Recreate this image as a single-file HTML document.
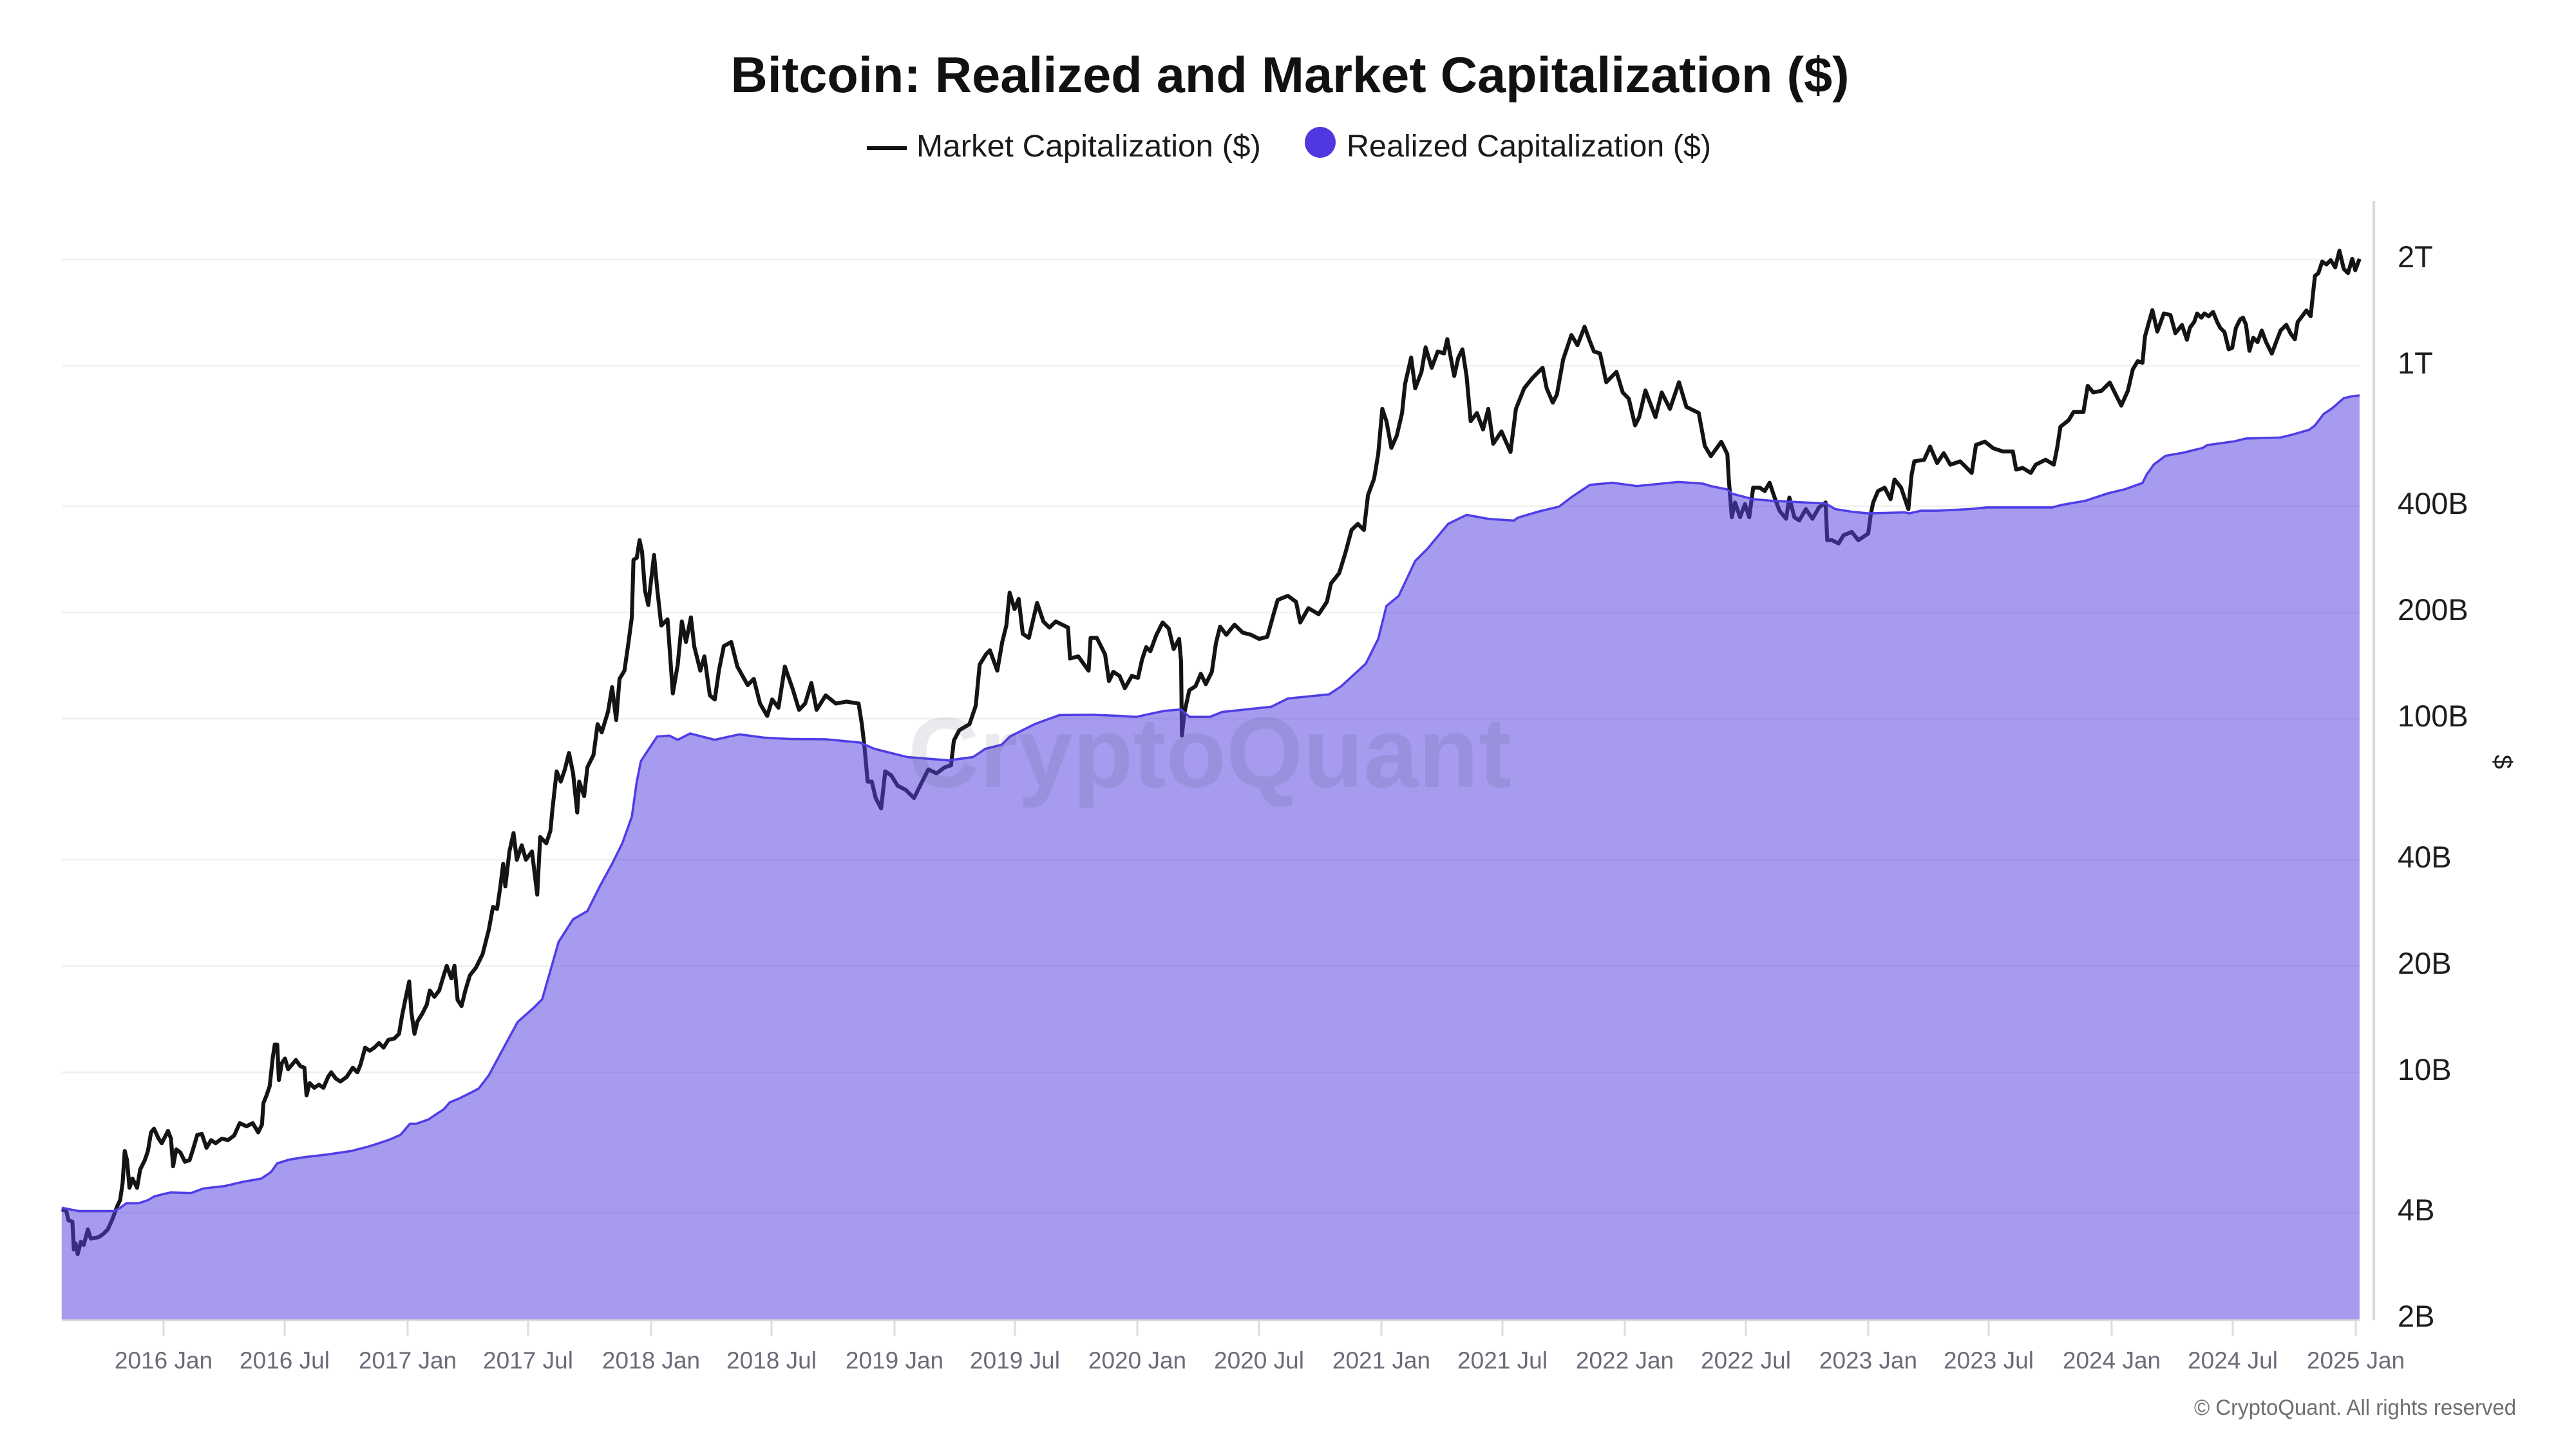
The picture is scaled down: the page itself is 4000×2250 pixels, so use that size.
<!DOCTYPE html>
<html>
<head>
<meta charset="utf-8">
<style>
html,body{margin:0;padding:0;background:#fff;}
body{width:4000px;height:2250px;overflow:hidden;}
svg{display:block;}
text{font-family:"Liberation Sans",Arial,sans-serif;}
</style>
</head>
<body>
<svg width="4000" height="2250" viewBox="0 0 4000 2250" xmlns="http://www.w3.org/2000/svg">
<rect x="0" y="0" width="4000" height="2250" fill="#ffffff"/>

<!-- Title -->
<text x="2003" y="143" text-anchor="middle" font-size="78" font-weight="bold" fill="#111111" textLength="1737" lengthAdjust="spacingAndGlyphs">Bitcoin: Realized and Market Capitalization ($)</text>

<!-- Legend -->
<rect x="1346" y="227" width="62" height="6" fill="#111111"/>
<text x="1423" y="243" font-size="48" fill="#1a1a1a" textLength="535" lengthAdjust="spacingAndGlyphs">Market Capitalization ($)</text>
<circle cx="2050" cy="221" r="24" fill="#5038e0"/>
<text x="2091" y="243" font-size="48" fill="#1a1a1a" textLength="566" lengthAdjust="spacingAndGlyphs">Realized Capitalization ($)</text>

<!-- Gridlines -->
<g stroke="#f0f0f0" stroke-width="2.5">
<line x1="96" y1="403" x2="3664" y2="403"/>
<line x1="96" y1="568" x2="3664" y2="568"/>
<line x1="96" y1="786" x2="3664" y2="786"/>
<line x1="96" y1="951" x2="3664" y2="951"/>
<line x1="96" y1="1116" x2="3664" y2="1116"/>
<line x1="96" y1="1335" x2="3664" y2="1335"/>
<line x1="96" y1="1500" x2="3664" y2="1500"/>
<line x1="96" y1="1665" x2="3664" y2="1665"/>
<line x1="96" y1="1883" x2="3664" y2="1883"/>
</g>

<!-- Data (in preview coordinates, scaled) -->
<g transform="scale(2.555)">
<path fill="none" stroke="#141414" stroke-width="2.4" stroke-linejoin="round" d="M37.5,735 L40.3,736 41.6,741.6 44,742.5 44.9,759.4 45.9,755.6 47.2,762.2 49.1,754.7 50.9,756.6 53.4,747.2 55.2,752.8 59.9,751.9 62.7,750 65.5,747.2 68.4,740.7 71.2,733.2 73,729.4 74.5,719.1 75.8,699.5 77.2,705.1 78.7,721.9 80.5,716.3 83.3,721.9 85.2,710.7 88,705.1 89.9,699.5 91.8,688.2 93.6,686 96.4,692 98.3,694.8 102.1,687.3 103.9,692 105.2,708.8 107.1,698.5 109.6,700.4 112.4,706 115.2,705.1 117,699.5 119.9,689.7 122.7,689.2 125.5,697.6 128.3,692.9 131.1,694.8 134.8,692 138.6,692.9 142.3,690.1 145.7,682.6 149.8,684.5 153.6,682.6 156.9,688.2 159.2,683.5 160.1,670.4 162,665.7 163.9,660.1 165.7,643.3 167,634.8 168.5,634.8 169.5,656.4 171.3,646.1 173.2,643.3 175.1,649.8 177.5,647 179.8,644.2 182.6,648 185,648.9 186.3,665.7 188.2,658.3 191,661.1 193.8,659.2 196.6,661.1 199.4,654.5 201.3,651.7 204.1,655.5 206.9,657.3 210.7,654.5 214.4,648.9 217.2,651.7 219.1,647 221.9,636.7 224.7,638.6 227.5,636.7 230.3,633.9 233.1,636.7 236,632 239.7,631.1 242.5,628.3 244.4,617 246.3,607.7 248.7,596.5 250,615.2 251.9,628.3 253.7,620.8 256.6,616.1 259.4,610.5 261.2,602 264,605.8 266.9,602 269.7,592.7 271.5,587 274.3,594.6 276.2,587 278.1,607.7 280.5,611.4 282.8,602 285.6,592.7 289.3,588 293.3,579.9 297.1,564.9 299.6,551.2 302.1,552.4 304.1,538.7 305.8,525 307.1,538.7 309.6,517.5 312.1,506.3 314.1,522.5 317.1,513.7 319.6,522.5 323.3,517.5 326.5,543.7 328.3,508.7 332,512.5 334.5,505 335.8,491.3 338.3,468.8 340.8,475 343.3,467.6 345.8,457.6 348.3,470 350.8,493.8 352,475 355,483.8 357,466.3 360.7,458.8 363.2,440.1 365.7,445.1 369.5,432.6 372,417.6 374.5,437.6 376.5,412.6 379.5,407.6 382,390.2 384,375.2 385,340.2 387,339 388.7,328.3 390.2,335.3 392,359 394,367.7 395.7,352.7 397.5,337.3 399.4,357.7 401.9,380.2 405.7,376.4 408.9,421.4 411.9,403.9 414.4,377.7 416.9,390.2 419.9,375.2 421.9,392.7 425.6,407.6 428.1,398.9 431.4,422.6 434.4,425.1 436.9,407.6 439.9,392.7 444.4,390.2 448.1,405.1 454.4,416.4 458.1,412.6 461.9,427.6 466.3,435.1 469.3,425.1 473.1,430.1 477,405.1 481.8,418.9 485.6,431.4 489.3,427.6 493.1,415.1 496.3,431.4 501.8,422.6 508,427.6 514.3,426.4 521.8,427.6 523.8,440.1 525.5,455.1 527.3,475 529.8,475 532.2,485 535.5,491.3 538,468.8 541.7,471.3 545.5,477.5 550.5,480.1 555.5,485 559.2,477.5 564.2,467.6 569.2,470 574.2,466.3 578,465.1 579.7,450.1 583,443.8 589.2,440.1 593,428.9 595.4,403.9 599.2,397.7 601.6,395.2 606.1,407.6 609.1,390.2 611.6,380.2 613.6,360.2 616.6,370.2 619.1,364 621.6,385.2 625.3,387.7 630.3,366.4 634.1,377.7 637.8,381.4 641.6,377.7 649.1,381.4 650.3,400.2 655.3,398.9 661.6,407.6 662.8,387.7 666.6,387.7 671.6,397.7 674,413.9 676.6,408.3 680.4,410.8 683.6,418.2 687.9,410.8 691.6,412 694.1,400.8 696.6,393.3 699.1,395.8 702.8,385.8 706.6,378.3 710.3,382 713.3,394.5 716.6,388.3 717.8,402 718.3,447 719.8,433.2 722.8,419.5 726.6,417 729.8,409.5 732.8,415.8 736.5,408.3 739,390.8 741.5,380.8 745.3,385.8 750.3,379.6 755.3,384.5 760.3,385.8 765.3,388.3 770.2,387 774,373.3 776.5,364.6 782.7,362.1 787.7,365.8 790.2,378.3 795.2,369.6 801.4,373.3 806.4,365.8 808.9,354.6 813.9,348.3 817.7,335.9 821.4,322.1 825.2,318.4 828.9,322.1 831.4,300.9 835.1,290.9 837.6,276 840.1,248.5 842.6,256 845.6,272.2 848.9,264.7 852.1,251 853.9,233.5 857.6,217.3 860.1,236 863.9,226 866.4,211.1 870.1,223.5 873.8,213.6 877.6,214.8 879.6,206.1 883.8,228.5 886.3,217.3 888.8,212.3 891.3,228.5 893.8,256 897.6,251 901.3,261 904.5,248.5 907.5,269.7 912.5,262.2 918,274.7 921.3,248.5 926.3,236 931.3,229.8 937.5,223.5 940,236 943.7,244.7 946.2,239.8 950,218.5 955,203.6 958.7,209.8 963,198.6 966.2,207.3 968.7,213.6 972.4,214.8 976.2,232.3 982.4,226 986.2,238.5 989.9,242.3 993.7,258.5 996.2,253.5 1000,237.3 1006.1,253.5 1009.9,238.5 1014.9,248.5 1020.4,232.3 1024.9,247.3 1032.4,251 1036.1,271 1039.8,277.2 1046.1,268.5 1049.8,276 1050.6,290.4 1052.5,314.3 1054.5,305.4 1057.5,314.3 1060.5,306.4 1063.1,314.3 1065.5,296.4 1069.5,296.4 1072.5,298.4 1075.5,293.4 1078.5,302.4 1081.5,310.4 1085.5,315.3 1087.5,302.4 1090.5,314.3 1093.5,316.3 1097.5,309.4 1101.5,315.3 1105.5,308.4 1109.5,305.4 1110.5,328.3 1113.4,328.3 1117.4,330.3 1120.4,325.3 1125.4,323.3 1129.4,328.3 1135.4,324.3 1137,312.4 1138.4,305.4 1141.4,298.4 1145.4,296.4 1149,303.4 1151.4,291.4 1155.4,296.4 1159.8,309.4 1161.8,288.4 1163.4,280.4 1169.4,279.4 1173,271.4 1177.3,281.4 1181.3,275.4 1185.3,282.4 1191.3,280.4 1198.3,287.4 1200.9,270.4 1206.3,268.4 1211.3,272.4 1217.3,274.4 1223.3,274.4 1225.3,285.4 1229.3,284.4 1234.2,287.4 1237.2,282.4 1243.2,279.4 1248.2,282.4 1250.2,272.4 1252.2,259.4 1257.2,255.4 1260.2,250.4 1266.2,250.4 1268.8,234.5 1272.2,238.5 1277.2,237.5 1282.2,232.5 1286.2,240.5 1289.2,246.5 1293.2,237.5 1296.2,224.5 1299.2,219.5 1302.1,220.5 1303.6,204.5 1306.1,195.5 1308.1,188.5 1311.1,201.5 1315.1,190.5 1319.1,191.5 1322.1,202.5 1326.1,197.5 1329.1,206.5 1330.9,199.2 1333.5,195.7 1335.3,190.5 1337.9,193.1 1339.7,190.5 1342.3,192.2 1345,189.6 1347.5,195.7 1349.3,199.2 1351.9,201.8 1354.5,212.3 1356.6,211.4 1358.9,199.2 1361.5,194 1363.2,193.1 1365,197.4 1367.1,213.2 1369.4,205.3 1372,207.9 1374.6,200.9 1377.2,207.9 1380.7,214.9 1383.3,207.9 1386,200.9 1389.5,197.4 1392.1,202.7 1394.7,206.2 1396.4,195.7 1399.1,192.2 1401.7,188.7 1404.3,192.2 1405.2,183.5 1406.9,167.7 1409,166 1411.3,159 1413.9,160.7 1416.5,158.1 1419.2,162.5 1421.8,152.4 1424.4,163.4 1427,166 1429.6,157.3 1431.4,164.2 1434,157.3"/>

<path fill="#5742de" fill-opacity="0.53" stroke="none" d="M37.5,734 L47.8,736 69.3,736 73,734.1 76.8,731.3 84.3,731.3 89.9,729.4 93.6,727.2 99.3,725.7 103.9,724.7 116.1,725.1 123.6,722.3 136.7,720.8 147.9,718.2 158.8,716.3 164.8,712.2 168.5,707 176,704.7 185.4,703.2 198.5,701.7 213.5,699.5 224.7,696.6 236,692.9 243.4,689.7 249.1,683 252.8,683 260.3,680.4 265.9,676.6 269.7,674.2 273.4,669.9 279,667.6 286.5,663.9 291,661.5 297.1,653.5 305.8,637.3 314.6,621.1 324.5,612.3 329.5,607.3 334.5,589.9 339.5,572.4 348.3,558.7 357,553.7 364.5,538.7 372,525 378.2,512.5 384,496.3 387,475 389.5,462.6 394.4,455.1 399.4,447.6 406.9,447.1 411.9,449.6 419.4,445.8 434.4,449.6 449.4,446.3 464.3,448.3 479.3,449.1 501.8,449.3 522.7,451.3 531.4,455.1 551.4,460.1 576.4,462.1 591.4,460.1 598.8,455.1 608.8,452.6 613.8,447.6 628.8,440.1 643.8,434.6 663.7,434.4 680.7,435.1 690.4,435.7 707.8,432 717.8,431.2 722.8,435.7 735.3,435.7 742.8,432.7 772.7,429.5 782.7,424.5 807.7,422 815.2,417 830.1,403.3 837.6,388.3 842.6,368.3 850.1,362.1 860.1,340.9 867.6,333.4 880.1,318.4 891.3,312.9 905,315.4 920,316.4 922.5,314.6 935,310.9 947.5,307.9 955,302.2 966.2,294.7 979.9,293.4 994.9,295.4 1019.9,292.9 1034.9,293.9 1039.6,295.4 1049.6,297.4 1052.5,300 1065.5,303.4 1077.5,304.4 1097.5,305.4 1109.5,306 1115.4,309.4 1125.4,311 1135.4,312 1157.4,311.4 1160.4,312 1167.4,310.4 1177.3,310.4 1197.3,309.4 1207.3,308.4 1247.2,308.4 1253.2,306.8 1267.2,304.4 1281.2,299.8 1291.2,297.4 1302.1,293.5 1304.7,288.3 1309.1,282.2 1316.1,277 1326.5,275.2 1338.8,272.2 1341.4,270.5 1358,268.2 1365,266.5 1386,265.9 1393,264.2 1403.4,261.2 1406.9,258.6 1412.2,251.6 1417.4,248.1 1424.4,242 1429.6,240.8 1434,240.3 L1434,802 L37.5,802 Z"/>

<path fill="none" stroke="#4f3ee6" stroke-width="1.4" stroke-linejoin="round" d="M37.5,734 L47.8,736 69.3,736 73,734.1 76.8,731.3 84.3,731.3 89.9,729.4 93.6,727.2 99.3,725.7 103.9,724.7 116.1,725.1 123.6,722.3 136.7,720.8 147.9,718.2 158.8,716.3 164.8,712.2 168.5,707 176,704.7 185.4,703.2 198.5,701.7 213.5,699.5 224.7,696.6 236,692.9 243.4,689.7 249.1,683 252.8,683 260.3,680.4 265.9,676.6 269.7,674.2 273.4,669.9 279,667.6 286.5,663.9 291,661.5 297.1,653.5 305.8,637.3 314.6,621.1 324.5,612.3 329.5,607.3 334.5,589.9 339.5,572.4 348.3,558.7 357,553.7 364.5,538.7 372,525 378.2,512.5 384,496.3 387,475 389.5,462.6 394.4,455.1 399.4,447.6 406.9,447.1 411.9,449.6 419.4,445.8 434.4,449.6 449.4,446.3 464.3,448.3 479.3,449.1 501.8,449.3 522.7,451.3 531.4,455.1 551.4,460.1 576.4,462.1 591.4,460.1 598.8,455.1 608.8,452.6 613.8,447.6 628.8,440.1 643.8,434.6 663.7,434.4 680.7,435.1 690.4,435.7 707.8,432 717.8,431.2 722.8,435.7 735.3,435.7 742.8,432.7 772.7,429.5 782.7,424.5 807.7,422 815.2,417 830.1,403.3 837.6,388.3 842.6,368.3 850.1,362.1 860.1,340.9 867.6,333.4 880.1,318.4 891.3,312.9 905,315.4 920,316.4 922.5,314.6 935,310.9 947.5,307.9 955,302.2 966.2,294.7 979.9,293.4 994.9,295.4 1019.9,292.9 1034.9,293.9 1039.6,295.4 1049.6,297.4 1052.5,300 1065.5,303.4 1077.5,304.4 1097.5,305.4 1109.5,306 1115.4,309.4 1125.4,311 1135.4,312 1157.4,311.4 1160.4,312 1167.4,310.4 1177.3,310.4 1197.3,309.4 1207.3,308.4 1247.2,308.4 1253.2,306.8 1267.2,304.4 1281.2,299.8 1291.2,297.4 1302.1,293.5 1304.7,288.3 1309.1,282.2 1316.1,277 1326.5,275.2 1338.8,272.2 1341.4,270.5 1358,268.2 1365,266.5 1386,265.9 1393,264.2 1403.4,261.2 1406.9,258.6 1412.2,251.6 1417.4,248.1 1424.4,242 1429.6,240.8 1434,240.3"/>
</g>

<!-- Watermark -->
<text x="1410" y="1222" font-size="155" font-weight="bold" fill="#3c3c64" fill-opacity="0.11" textLength="937" lengthAdjust="spacingAndGlyphs">CryptoQuant</text>

<!-- X axis line and ticks -->
<line x1="96" y1="2050" x2="3664" y2="2050" stroke="#dcdcdc" stroke-width="3"/>
<g stroke="#dcdcdc" stroke-width="3">
<line x1="254" y1="2050" x2="254" y2="2074"/>
<line x1="442" y1="2050" x2="442" y2="2074"/>
<line x1="633" y1="2050" x2="633" y2="2074"/>
<line x1="820" y1="2050" x2="820" y2="2074"/>
<line x1="1011" y1="2050" x2="1011" y2="2074"/>
<line x1="1198" y1="2050" x2="1198" y2="2074"/>
<line x1="1389" y1="2050" x2="1389" y2="2074"/>
<line x1="1576" y1="2050" x2="1576" y2="2074"/>
<line x1="1766" y1="2050" x2="1766" y2="2074"/>
<line x1="1955" y1="2050" x2="1955" y2="2074"/>
<line x1="2145" y1="2050" x2="2145" y2="2074"/>
<line x1="2333" y1="2050" x2="2333" y2="2074"/>
<line x1="2523" y1="2050" x2="2523" y2="2074"/>
<line x1="2711" y1="2050" x2="2711" y2="2074"/>
<line x1="2901" y1="2050" x2="2901" y2="2074"/>
<line x1="3088" y1="2050" x2="3088" y2="2074"/>
<line x1="3279" y1="2050" x2="3279" y2="2074"/>
<line x1="3467" y1="2050" x2="3467" y2="2074"/>
<line x1="3658" y1="2050" x2="3658" y2="2074"/>
</g>

<!-- X labels -->
<g font-size="37" fill="#6b6b78" text-anchor="middle">
<text x="254" y="2125">2016 Jan</text>
<text x="442" y="2125">2016 Jul</text>
<text x="633" y="2125">2017 Jan</text>
<text x="820" y="2125">2017 Jul</text>
<text x="1011" y="2125">2018 Jan</text>
<text x="1198" y="2125">2018 Jul</text>
<text x="1389" y="2125">2019 Jan</text>
<text x="1576" y="2125">2019 Jul</text>
<text x="1766" y="2125">2020 Jan</text>
<text x="1955" y="2125">2020 Jul</text>
<text x="2145" y="2125">2021 Jan</text>
<text x="2333" y="2125">2021 Jul</text>
<text x="2523" y="2125">2022 Jan</text>
<text x="2711" y="2125">2022 Jul</text>
<text x="2901" y="2125">2023 Jan</text>
<text x="3088" y="2125">2023 Jul</text>
<text x="3279" y="2125">2024 Jan</text>
<text x="3467" y="2125">2024 Jul</text>
<text x="3658" y="2125">2025 Jan</text>
</g>

<!-- Right axis line -->
<line x1="3686" y1="312" x2="3686" y2="2050" stroke="#d8d8de" stroke-width="4"/>

<!-- Y labels -->
<g font-size="47" fill="#1e1e1e">
<text x="3723" y="415">2T</text>
<text x="3723" y="580">1T</text>
<text x="3723" y="798">400B</text>
<text x="3723" y="963">200B</text>
<text x="3723" y="1128">100B</text>
<text x="3723" y="1347">40B</text>
<text x="3723" y="1512">20B</text>
<text x="3723" y="1677">10B</text>
<text x="3723" y="1895">4B</text>
<text x="3723" y="2060">2B</text>
</g>

<!-- Y axis title -->
<text transform="translate(3886,1183) rotate(90)" text-anchor="middle" dominant-baseline="central" font-size="40" fill="#1e1e1e">$</text>

<!-- Copyright -->
<text x="3907" y="2197" text-anchor="end" font-size="34" fill="#6e6e6e" textLength="500" lengthAdjust="spacingAndGlyphs">© CryptoQuant. All rights reserved</text>
</svg>
</body>
</html>
